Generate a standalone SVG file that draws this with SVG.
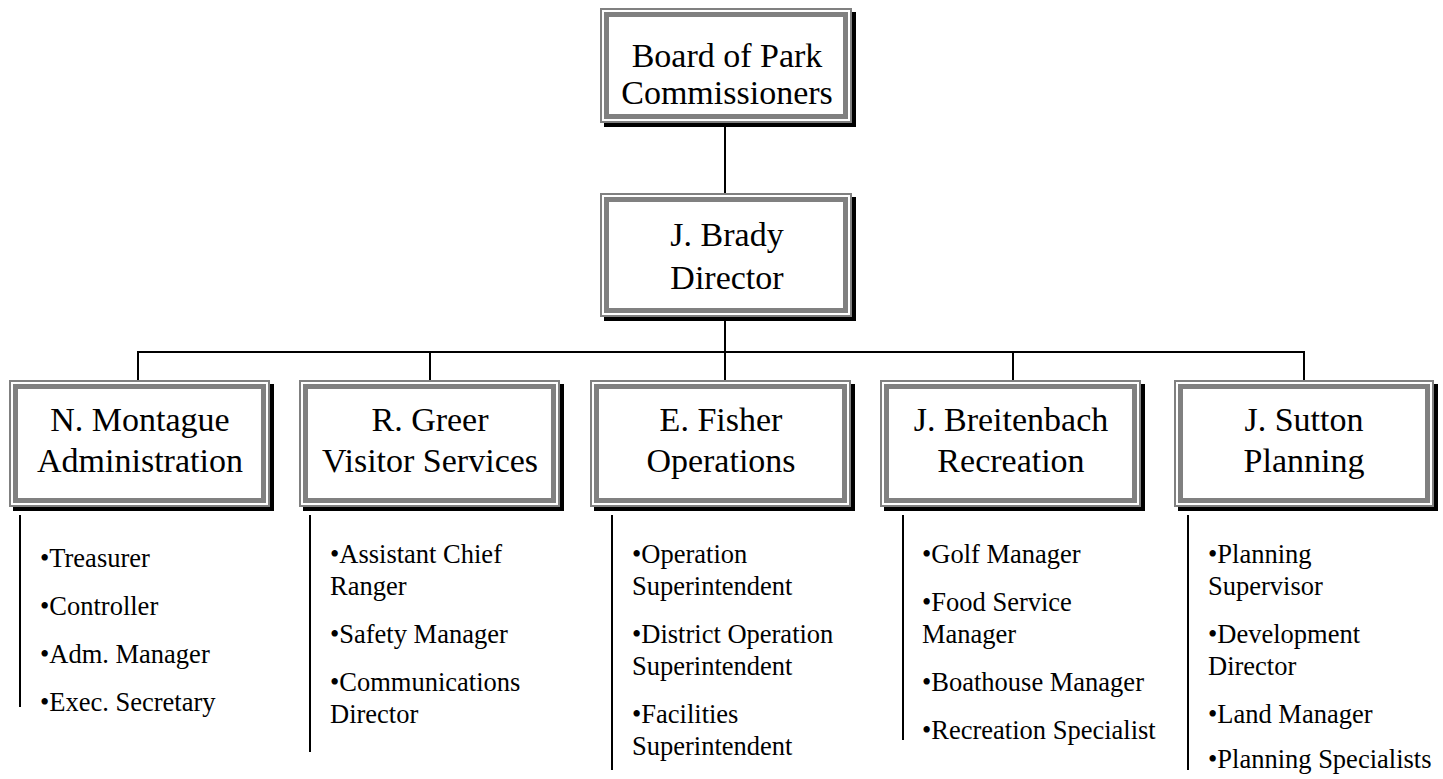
<svg xmlns="http://www.w3.org/2000/svg" width="1443" height="779" viewBox="0 0 1443 779">
<style>
.sh{fill:#000}
.bg{fill:#fff}
.ol{fill:none;stroke:#808080;stroke-width:2}
.bd{fill:#fff;stroke:#808080;stroke-width:5}
.t{font-family:"Liberation Serif","Times New Roman",serif;font-size:34px;fill:#000;text-anchor:middle}
.li{font-family:"Liberation Serif","Times New Roman",serif;font-size:26.5px;fill:#000}
.c{stroke:#000;stroke-width:2;fill:none}
</style>
<rect width="1443" height="779" fill="#fff"/>
<g id="connectors">
<path class="c" d="M725 123V193"/>
<path class="c" d="M725 317V352"/>
<path class="c" d="M138 380V352H1304V380"/>
<path class="c" d="M430 352V380"/>
<path class="c" d="M725 352V380"/>
<path class="c" d="M1013 352V380"/>
<path class="c" d="M20 515V707"/>
<path class="c" d="M310 515V752"/>
<path class="c" d="M612 515V770"/>
<path class="c" d="M903 515V740"/>
<path class="c" d="M1188 515V770"/>
</g>
<g id="board">
<rect class="sh" x="604" y="12" width="252" height="115"/>
<rect class="bg" x="600" y="8" width="252" height="115"/>
<rect class="ol" x="601" y="9" width="250" height="113"/>
<rect class="bd" x="606.5" y="14.5" width="239" height="102"/>
<text class="t" x="727" y="67">Board of Park</text>
<text class="t" x="727" y="104">Commissioners</text>
</g>
<g id="director">
<rect class="sh" x="604" y="197" width="252" height="124"/>
<rect class="bg" x="600" y="193" width="252" height="124"/>
<rect class="ol" x="601" y="194" width="250" height="122"/>
<rect class="bd" x="606.5" y="199.5" width="239" height="111"/>
<text class="t" x="727" y="246">J. Brady</text>
<text class="t" x="727" y="289">Director</text>
</g>
<g id="montague">
<rect class="sh" x="13" y="384" width="261" height="127"/>
<rect class="bg" x="9" y="380" width="261" height="127"/>
<rect class="ol" x="10" y="381" width="259" height="125"/>
<rect class="bd" x="15.5" y="386.5" width="248" height="114"/>
<text class="t" x="140" y="431">N. Montague</text>
<text class="t" x="140" y="472">Administration</text>
<text class="li" x="40" y="567">•Treasurer</text>
<text class="li" x="40" y="615">•Controller</text>
<text class="li" x="40" y="663">•Adm. Manager</text>
<text class="li" x="40" y="711">•Exec. Secretary</text>
</g>
<g id="greer">
<rect class="sh" x="303" y="384" width="261" height="127"/>
<rect class="bg" x="299" y="380" width="261" height="127"/>
<rect class="ol" x="300" y="381" width="259" height="125"/>
<rect class="bd" x="305.5" y="386.5" width="248" height="114"/>
<text class="t" x="430" y="431">R. Greer</text>
<text class="t" x="430" y="472">Visitor Services</text>
<text class="li" x="330" y="563">•Assistant Chief</text>
<text class="li" x="330" y="595">Ranger</text>
<text class="li" x="330" y="643">•Safety Manager</text>
<text class="li" x="330" y="691">•Communications</text>
<text class="li" x="330" y="723">Director</text>
</g>
<g id="fisher">
<rect class="sh" x="594" y="384" width="261" height="127"/>
<rect class="bg" x="590" y="380" width="261" height="127"/>
<rect class="ol" x="591" y="381" width="259" height="125"/>
<rect class="bd" x="596.5" y="386.5" width="248" height="114"/>
<text class="t" x="721" y="431">E. Fisher</text>
<text class="t" x="721" y="472">Operations</text>
<text class="li" x="632" y="563">•Operation</text>
<text class="li" x="632" y="595">Superintendent</text>
<text class="li" x="632" y="643">•District Operation</text>
<text class="li" x="632" y="675">Superintendent</text>
<text class="li" x="632" y="723">•Facilities</text>
<text class="li" x="632" y="755">Superintendent</text>
</g>
<g id="breitenbach">
<rect class="sh" x="884" y="384" width="261" height="127"/>
<rect class="bg" x="880" y="380" width="261" height="127"/>
<rect class="ol" x="881" y="381" width="259" height="125"/>
<rect class="bd" x="886.5" y="386.5" width="248" height="114"/>
<text class="t" x="1011" y="431">J. Breitenbach</text>
<text class="t" x="1011" y="472">Recreation</text>
<text class="li" x="922" y="563">•Golf Manager</text>
<text class="li" x="922" y="611">•Food Service</text>
<text class="li" x="922" y="643">Manager</text>
<text class="li" x="922" y="691">•Boathouse Manager</text>
<text class="li" x="922" y="739">•Recreation Specialist</text>
</g>
<g id="sutton">
<rect class="sh" x="1178" y="384" width="260" height="127"/>
<rect class="bg" x="1174" y="380" width="260" height="127"/>
<rect class="ol" x="1175" y="381" width="258" height="125"/>
<rect class="bd" x="1180.5" y="386.5" width="247" height="114"/>
<text class="t" x="1304" y="431">J. Sutton</text>
<text class="t" x="1304" y="472">Planning</text>
<text class="li" x="1208" y="563">•Planning</text>
<text class="li" x="1208" y="595">Supervisor</text>
<text class="li" x="1208" y="643">•Development</text>
<text class="li" x="1208" y="675">Director</text>
<text class="li" x="1208" y="723">•Land Manager</text>
<text class="li" x="1208" y="768">•Planning Specialists</text>
</g>
</svg>
